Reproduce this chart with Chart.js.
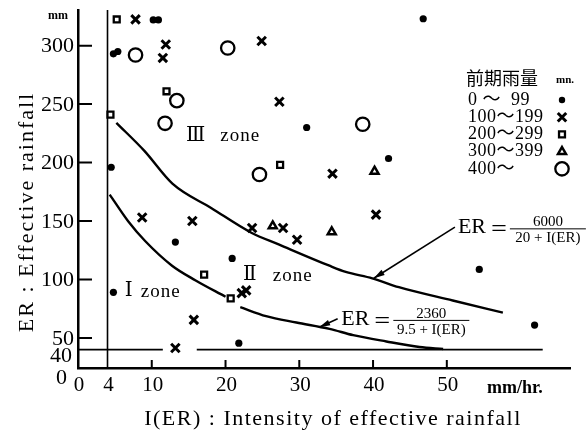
<!DOCTYPE html>
<html>
<head>
<meta charset="utf-8">
<title>ER - I(ER)</title>
<script src="https://cdn.jsdelivr.net/npm/chart.js@4.4.1/dist/chart.umd.min.js"></script>
<style>
  html, body { margin: 0; padding: 0; background: #fff; }
  #wrap { width: 587px; height: 434px; }
</style>
</head>
<body>
<div id="wrap"><canvas id="er-chart" width="587" height="434"></canvas></div>
<script>
// === EFFECTIVE RAINFALL vs INTENSITY, grouped by antecedent rainfall ===

// [I(ER) mm/hr, ER mm]
const rain0to99 = [
  [10.2, 322], [10.9, 322], [4.8, 293], [5.4, 295], [31.0, 230], [4.5, 196],
  [46.8, 323], [42.1, 203.5], [13.2, 132], [20.9, 118], [4.8, 89], [21.8, 45.5],
  [54.4, 108.6], [61.9, 61],
];
const rain100to199 = [
  [7.8, 322.5], [11.9, 301], [11.5, 289.5], [24.9, 304], [27.3, 252], [34.5, 190.5],
  [8.7, 153], [15.5, 150], [23.6, 144], [27.8, 144], [29.7, 134], [40.4, 155.5],
  [22.2, 88.3], [22.8, 90.7], [15.7, 65.5], [13.2, 41.4],
];
const rain200to299 = [[5.25, 322.4], [12.0, 261], [4.4, 241], [27.4, 198], [17.1, 104.2], [20.7, 83.9]];
const rain300to399 = [[26.4, 145.7], [40.2, 192.5], [34.4, 140.7]];
const rain400up    = [[7.8, 292], [20.3, 298], [13.4, 253], [11.8, 233.6], [24.6, 189.8], [38.6, 232.8]];

// zone boundaries (null = break in the drawn line)
const upperBoundary = [
  [5.2, 234], [9.0, 210], [12.8, 182], [18.1, 161], [23.5, 140], [27.2, 130],
  [34.0, 112], [36.3, 106.5], [39.9, 101], [43.5, 93.4], [50.8, 82], [57.6, 71.7],
];
const lowerBoundary = [
  [4.3, 172.6], [6.8, 149.8], [9.1, 132.9], [12.75, 111.8], [15.95, 99.2], [20.0, 85.3],
  [21, null],
  [22.0, 76.3], [25.5, 68.6], [29.6, 63.2], [34.1, 57.8], [37.3, 52.4], [41.8, 47],
  [46.3, 42.3], [49.5, 40.5],
];
const er40Line = [[0, 40], [11.5, 40], [13.8, null], [16.1, 40], [63, 40]];

const legendLabels = ["0 〜  99", "100〜199", "200〜299", "300〜399", "400〜"];
const xTickValues  = [0, 4, 10, 20, 30, 40, 50];
const xTickMarks   = [10, 20, 30, 40, 50];
const yTickValues  = [50, 100, 150, 200, 250, 300];

const X_MIN = 0,    X_MAX = 66.7;
const Y_MIN = 24.3, Y_MAX = 330.5;
const I_LIMIT = 4;

const SERIF = "'Liberation Serif', 'DejaVu Serif', 'Noto Sans CJK JP', serif";
const CJK   = "'Noto Sans CJK JP', sans-serif";

const toPoints = (pairs) => pairs.map(([x, y]) => ({ x, y }));

const markerStyles = [
  { pointStyle: "circle",   pointRadius: 3.6, backgroundColor: "#000", borderColor: "#000", borderWidth: 0 },
  { pointStyle: "crossRot", pointRadius: 6,   backgroundColor: "#000", borderColor: "#000", borderWidth: 3 },
  { pointStyle: "rect",     pointRadius: 4.2, backgroundColor: "#fff", borderColor: "#000", borderWidth: 2.3 },
  { pointStyle: "triangle", pointRadius: 4.6, backgroundColor: "#fff", borderColor: "#000", borderWidth: 2.5 },
  { pointStyle: "circle",   pointRadius: 6.7, backgroundColor: "#fff", borderColor: "#000", borderWidth: 2.3 },
];
const markerSeries = [rain0to99, rain100to199, rain200to299, rain300to399, rain400up];

const markerDatasets = markerSeries.map((series, i) => ({
  label: legendLabels[i],
  data: toPoints(series),
  showLine: false,
  ...markerStyles[i],
}));

const lineDataset = (data, width) => ({
  data: toPoints(data),
  showLine: true,
  pointRadius: 0,
  borderColor: "#000",
  borderWidth: width,
  cubicInterpolationMode: "monotone",
  spanGaps: false,
});

const zoneLabels = [
  { numeral: "Ⅰ", numAt: [6.86, 90.5],  wordAt: [8.5, 89] },
  { numeral: "Ⅱ", numAt: [23.3, 103.8], wordAt: [26.4, 103.2] },
  { numeral: "Ⅲ", numAt: [15.95, 223.2], wordAt: [19.3, 223] },
];

const formulas = [
  { at: [51.5, 144.6], num: "6000", den: "20 + I(ER)",  from: [51.1, 144.8], to: [40.1, 101.1] },
  { at: [35.7, 66.3],  num: "2360", den: "9.5 + I(ER)", from: [35.2, 66.4],  to: [32.7, 59.2] },
];

const drawText = (ctx, str, x, y, font, align = "left", baseline = "middle", spacing = "0px") => {
  ctx.font = font;
  ctx.textAlign = align;
  ctx.textBaseline = baseline;
  ctx.letterSpacing = spacing;
  ctx.fillText(str, x, y);
  ctx.letterSpacing = "0px";
};

const drawArrow = (ctx, x1, y1, x2, y2) => {
  ctx.lineWidth = 1.6;
  ctx.beginPath();
  ctx.moveTo(x1, y1);
  ctx.lineTo(x2, y2);
  ctx.stroke();
  const a = Math.atan2(y2 - y1, x2 - x1);
  const len = 11, half = 3;
  const bx = x2 - len * Math.cos(a), by = y2 - len * Math.sin(a);
  ctx.beginPath();
  ctx.moveTo(x2, y2);
  ctx.lineTo(bx + half * Math.sin(a), by - half * Math.cos(a));
  ctx.lineTo(bx - half * Math.sin(a), by + half * Math.cos(a));
  ctx.closePath();
  ctx.fill();
};

const annotations = {
  id: "annotations",
  afterDatasetsDraw(chart) {
    const { ctx, chartArea, scales: { x, y } } = chart;
    const px = (v) => x.getPixelForValue(v);
    const py = (v) => y.getPixelForValue(v);

    ctx.save();
    ctx.fillStyle = "#000";
    ctx.strokeStyle = "#000";

    // inward tick marks
    ctx.lineWidth = 2;
    ctx.beginPath();
    yTickValues.forEach((v) => {
      ctx.moveTo(chartArea.left, py(v));
      ctx.lineTo(chartArea.left + 14, py(v));
    });
    xTickMarks.forEach((v) => {
      ctx.moveTo(px(v), chartArea.bottom);
      ctx.lineTo(px(v), chartArea.bottom - 8);
    });
    ctx.stroke();

    // tick labels
    const tickFont = `22px ${SERIF}`;
    yTickValues.forEach((v) => drawText(ctx, String(v), chartArea.left - 4, py(v) + 1, tickFont, "right"));
    drawText(ctx, "40", chartArea.left - 6, py(40) + 7, tickFont, "right");
    drawText(ctx, "0", chartArea.left - 11, chartArea.bottom + 10, tickFont, "right");
    xTickValues.forEach((v) => drawText(ctx, String(v), px(v) + 1, chartArea.bottom + 17, `21px ${SERIF}`, "center"));

    drawText(ctx, "mm", 58, 16, `bold 12px ${SERIF}`, "center");
    drawText(ctx, "mm/hr.", 487, chartArea.bottom + 20, `bold 18px ${SERIF}`, "left");

    // axis titles
    drawText(ctx, "I(ER) : Intensity of effective rainfall", 333, 419, `22px ${SERIF}`, "center", "middle", "1.5px");
    ctx.save();
    ctx.translate(27, 212);
    ctx.rotate(-Math.PI / 2);
    drawText(ctx, "ER : Effective rainfall", 0, 0, `22px ${SERIF}`, "center", "middle", "2px");
    ctx.restore();

    // zone names
    zoneLabels.forEach(({ numeral, numAt, wordAt }) => {
      drawText(ctx, numeral, px(numAt[0]), py(numAt[1]), `20px ${SERIF}`, "center");
      drawText(ctx, "zone", px(wordAt[0]), py(wordAt[1]), `19px ${SERIF}`, "left", "middle", "1px");
    });

    // boundary formulas with arrows
    formulas.forEach(({ at, num, den, from, to }) => {
      const ax = px(at[0]), ay = py(at[1]);
      drawText(ctx, "ER", ax, ay, `22px ${SERIF}`, "left");
      drawText(ctx, "＝", ax + 41, ay + 1, `18px ${CJK}`, "center");
      ctx.lineWidth = 1;
      ctx.beginPath();
      ctx.moveTo(ax + 52, ay + 1.5);
      ctx.lineTo(ax + 128, ay + 1.5);
      ctx.stroke();
      drawText(ctx, num, ax + 90, ay - 1, `15px ${SERIF}`, "center", "alphabetic");
      drawText(ctx, den, ax + 90, ay + 11, `15px ${SERIF}`, "center");
      drawArrow(ctx, px(from[0]), py(from[1]), px(to[0]), py(to[1]));
    });

    // legend: antecedent rainfall classes
    drawText(ctx, "前期雨量", 466, 78, `18px ${CJK}`, "left");
    drawText(ctx, "mn.", 556, 80, `bold 11px ${SERIF}`, "left");
    legendLabels.forEach((label, i) => {
      const rowY = 100 + i * 17.2;
      drawText(ctx, label, 468, rowY, `18px ${SERIF}`, "left", "middle", "0.5px");
      const st = markerStyles[i];
      ctx.fillStyle = st.backgroundColor;
      ctx.strokeStyle = st.borderColor;
      ctx.lineWidth = st.borderWidth;
      Chart.helpers.drawPoint(ctx, {
        pointStyle: st.pointStyle,
        radius: i === 0 ? 3.2 : st.pointRadius,
        rotation: 0,
        borderWidth: st.borderWidth,
      }, 562, rowY);
      ctx.fillStyle = "#000";
      ctx.strokeStyle = "#000";
    });

    ctx.restore();
  },
};

const ctx = document.getElementById("er-chart").getContext("2d");

new Chart(ctx, {
  type: "scatter",
  data: {
    datasets: [
      ...markerDatasets,
      lineDataset(upperBoundary, 2.4),
      lineDataset(lowerBoundary, 2.4),
      lineDataset(er40Line, 1.7),
      lineDataset([[I_LIMIT, Y_MIN], [I_LIMIT, Y_MAX]], 1.6),
    ],
  },
  options: {
    responsive: false,
    animation: false,
    events: [],
    layout: { padding: { left: 78, right: 17, top: 10, bottom: 66 } },
    plugins: {
      legend: { display: false },
      tooltip: { enabled: false },
    },
    scales: {
      x: {
        type: "linear",
        min: X_MIN,
        max: X_MAX,
        grid: { display: false, drawTicks: false },
        border: { display: true, color: "#000", width: 2.5 },
        ticks: { display: false },
      },
      y: {
        type: "linear",
        min: Y_MIN,
        max: Y_MAX,
        grid: { display: false, drawTicks: false },
        border: { display: true, color: "#000", width: 2.5 },
        ticks: { display: false },
      },
    },
  },
  plugins: [annotations],
});
</script>
</body>
</html>
